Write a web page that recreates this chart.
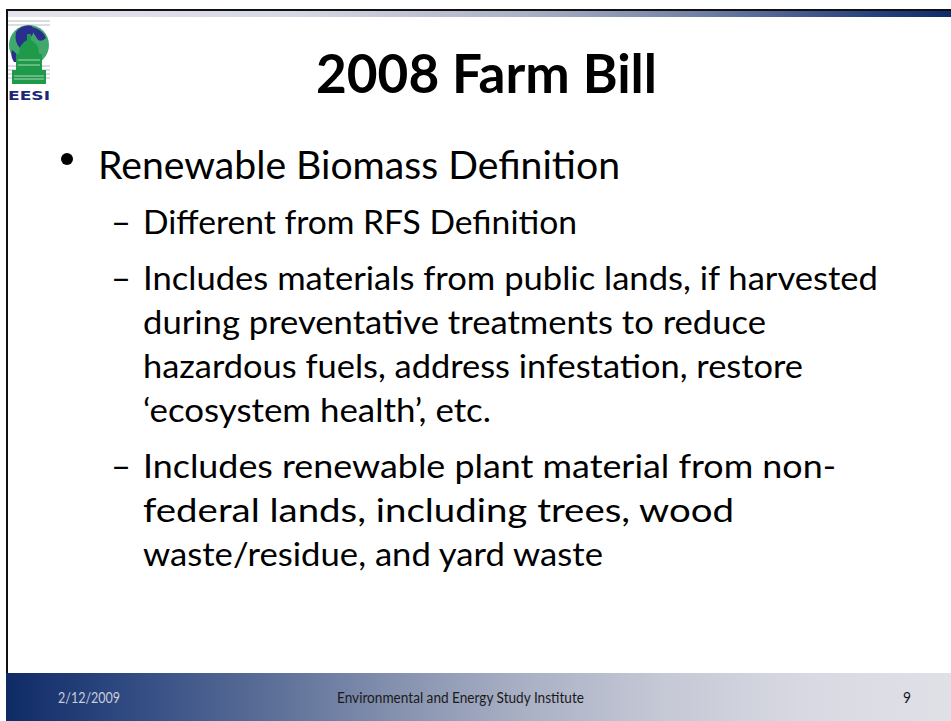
<!DOCTYPE html>
<html>
<head>
<meta charset="utf-8">
<script src="https://cdn.jsdelivr.net/npm/chart.js@4"></script>
<style>
  html, body { margin: 0; padding: 0; background: #ffffff; }
  body { width: 951px; height: 721px; position: relative; overflow: hidden; font-family: Lato, "Open Sans", sans-serif; color: #000; }
  .abs { position: absolute; }
  .line { position: absolute; white-space: nowrap; transform-origin: 0 0; line-height: 1.2; }
  .probe { display: inline-block; width: 0; height: 0; vertical-align: baseline; }
</style>
</head>
<body>
<div class="abs" style="left:6px;top:9px;width:945px;height:2px;background:#111;"></div>
<div class="abs" style="left:8px;top:11px;width:943px;height:6px;background:linear-gradient(to right,#e4e4ec 0%,#d6d8e2 30%,#aab1c6 55%,#6e7ea3 74%,#2c4680 90%,#0d2c6c 100%);"></div>
<div class="abs" style="left:6px;top:9px;width:2px;height:664px;background:#111;"></div>
<div class="abs" style="left:6px;top:673px;width:945px;height:48px;background:linear-gradient(to right,#0f2b66 0%,#2e4880 12%,#5c6f98 28%,#8793b0 42%,#aab1c5 55%,#c6c9d6 70%,#d8d9e2 85%,#e0e0e7 100%);"></div>
<svg class="abs" style="left:8px;top:18px" width="42" height="84" viewBox="0 0 42 84">
  <g stroke="#b9bcc8" stroke-width="1.2">
    <line x1="0" y1="3" x2="42" y2="3"/><line x1="0" y1="7" x2="42" y2="7"/>
    <line x1="0" y1="48" x2="42" y2="48"/><line x1="0" y1="52" x2="42" y2="52"/>
    <line x1="0" y1="56" x2="42" y2="56"/><line x1="0" y1="60" x2="42" y2="60"/>
  </g>
  <circle cx="21" cy="27" r="20" fill="#3fa86a"/>
  <path d="M8 14 Q14 6 24 8 Q28 14 22 20 Q18 28 12 30 Q6 24 8 14Z" fill="#2a2f8f"/>
  <path d="M22 9 Q34 10 38 20 Q34 24 30 22 Q26 16 22 9Z" fill="#2a2f8f"/>
  <path d="M4 32 Q10 36 14 44 L6 44 Q2 38 4 32Z" fill="#2a2f8f"/>
  <path d="M21 16 L23 16 L23 22 Q31 26 31 36 L34 36 L34 52 L8 52 L8 36 L11 36 Q11 26 19 22 L19 16Z" fill="#1e9a4a"/>
  <rect x="4" y="52" width="34" height="14" fill="#1e9a4a"/>
  <g stroke="#cfe8d6" stroke-width="0.8"><line x1="10" y1="42" x2="32" y2="42"/><line x1="10" y1="47" x2="32" y2="47"/><line x1="6" y1="58" x2="36" y2="58"/><line x1="6" y1="61" x2="36" y2="61"/></g>
  <text x="0" y="82" font-family="DejaVu Sans, sans-serif" font-weight="bold" font-size="12" fill="#1c2577" textLength="42" lengthAdjust="spacingAndGlyphs">EESI</text>
</svg>
<div class="abs" style="left:61px;top:153px;width:12px;height:12px;border-radius:50%;background:#000;"></div>
<div id="content"></div>
<script>
// ---- slide text content ----
const titleText = "2008 Farm Bill";
const bulletText = ["Renewable Biomass Definition"];
const subBulletLines = [
  "Different from RFS Definition",
  "Includes materials from public lands, if harvested",
  "during preventative treatments to reduce",
  "hazardous fuels, address infestation, restore",
  "\u2018ecosystem health\u2019, etc.",
  "Includes renewable plant material from non-",
  "federal lands, including trees, wood",
  "waste/residue, and yard waste"
];
const subBulletStarts = [true, true, false, false, false, true, false, false];
const footerDate = "2/12/2009";
const footerCenter = "Environmental and Energy Study Institute";
const footerPage = "9";

// ---- layout ----
const content = document.getElementById('content');
function place(text, opts) {
  const d = document.createElement('div');
  d.className = 'line';
  d.style.fontSize = opts.size + 'px';
  d.style.fontWeight = opts.weight || 400;
  d.style.color = opts.color || '#000';
  d.style.left = opts.left + 'px';
  d.style.top = '0px';
  const s = document.createElement('span');
  s.textContent = text;
  const p = document.createElement('span');
  p.className = 'probe';
  d.appendChild(s); d.appendChild(p);
  content.appendChild(d);
  const base = p.offsetTop;
  d.style.top = (opts.baseline - base) + 'px';
  if (opts.width) {
    const w = s.getBoundingClientRect().width;
    d.style.transform = 'scaleX(' + (opts.width / w) + ')';
  }
  return d;
}
place(titleText, {left: 316, baseline: 93, size: 54, weight: 700, width: 341});
place(bulletText[0], {left: 98, baseline: 179, size: 38, width: 522});
const subBaselines = [234, 290, 334, 378, 422, 478, 522, 566];
const subWidths = [434, 735, 623, 660, 348, 693, 591, 460];
subBulletLines.forEach((t, i) => {
  place(t, {left: 143, baseline: subBaselines[i], size: 33.5, width: subWidths[i]});
  if (subBulletStarts[i]) place('\u2013', {left: 111, baseline: subBaselines[i], size: 33.5, width: 20});
});
place(footerDate, {left: 58, baseline: 703, size: 14.5, color: '#c8ccd8', width: 62});
place(footerCenter, {left: 337, baseline: 703, size: 14.5, color: '#1a1a1a', width: 247});
place(footerPage, {left: 903, baseline: 703, size: 14.5, color: '#1a1a1a', width: 8});
</script>
</body>
</html>
